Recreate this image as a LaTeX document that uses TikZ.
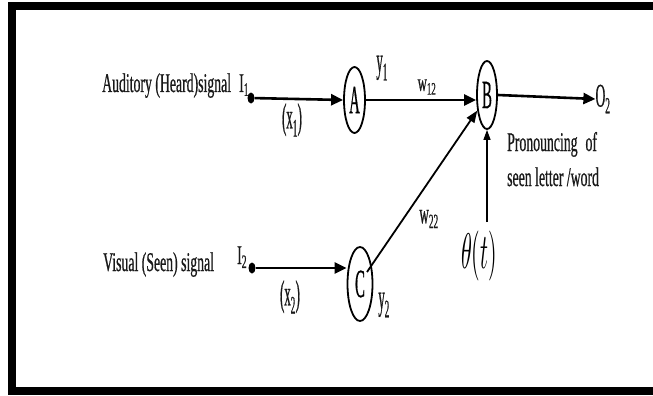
\documentclass[tikz,border=0pt]{standalone}
\usepackage{fontspec}
\setmainfont{Liberation Serif}[FakeStretch=0.51,FakeBold=0.6]
\usetikzlibrary{shapes.geometric,arrows.meta}
\newcommand\narrowtxt[2]{\scalebox{#1}[1]{#2}}
\begin{document}
\begin{tikzpicture}[x=1pt,y=-1pt,
  neuron/.style={draw,ellipse,line width=1.8pt,inner sep=0pt,font=\fontsize{40}{40}\selectfont},
  dotnode/.style={fill,ellipse,inner sep=0pt,minimum width=7pt,minimum height=11pt},
  lbl/.style={inner sep=0pt,text=black!90,font=\fontsize{27}{29}\selectfont},
  slbl/.style={inner sep=0pt,text=black!90,font=\fontsize{25}{27}\selectfont},
  blbl/.style={inner sep=0pt,text=black!90,font=\fontsize{36}{38}\selectfont},
  thick arrow/.style={line width=2.6pt,-{Triangle[length=12pt,width=11pt]}},
  mid arrow/.style={line width=1.8pt,-{Triangle[length=12pt,width=9pt]}},
  thin arrow/.style={line width=1.2pt,-{Triangle[length=10pt,width=7pt]}}]
\useasboundingbox (0,0) rectangle (653,396);
\clip (0,0) rectangle (653,396);
\fill[white] (0,0) rectangle (653,396);
\draw[line width=8pt] (12,6) rectangle (670,391);
% neurons
\node[neuron,minimum width=21pt,minimum height=66pt] (A) at (354.5,100) {\narrowtxt{0.72}{A}};
\node[neuron,minimum width=20pt,minimum height=68pt] (B) at (487,95) {\narrowtxt{0.72}{B}};
\node[neuron,minimum width=25pt,minimum height=74pt] (C) at (360,284) {\narrowtxt{0.72}{C}};
% input dots
\node[dotnode] (d1) at (251,98) {};
\node[dotnode] (d2) at (252,268) {};
% labels
\node[lbl,anchor=base west] (aud) at (102,92) {Auditory (Heard)signal};
\node[lbl,anchor=base west] (vis) at (103,271) {Visual (Seen) signal};
\node[lbl,anchor=base west] (I1) at (239,92) {I\textsubscript{1}};
\node[lbl,anchor=base west] (I2) at (237,264) {I\textsubscript{2}};
\node[blbl] (x1) at (292,120) {\narrowtxt{0.7}{(x\textsubscript{1})}};
\node[blbl] (x2) at (290,297) {\narrowtxt{0.7}{(x\textsubscript{2})}};
\node[blbl] (y1) at (382,68) {\narrowtxt{0.7}{y\textsubscript{1}}};
\node[blbl] (y2) at (384,305) {\narrowtxt{0.7}{y\textsubscript{2}}};
\node[slbl] (w12) at (427,87) {w\textsubscript{12}};
\node[slbl] (w22) at (429,219) {\narrowtxt{0.9}{\fontsize{29}{30}\selectfont w\textsubscript{22}}};
\node[lbl] (O2) at (603,99) {\narrowtxt{0.8}{\fontsize{33}{34}\selectfont O\textsubscript{2}}};
\node[lbl,anchor=base west] (pr1) at (507,151) {Pronouncing\, of};
\node[lbl,anchor=base west] (pr2) at (507,186) {seen letter /word};
\node[inner sep=0pt] (th) at (479,256) {\scalebox{2.2}[5.0]{$\theta(t)$}};
\coordinate (thtop) at (487,222);
\coordinate (cstart) at (367,272);
% connectors
\draw[thick arrow] (d1) -- (A.west);
\draw[thick arrow] (A.east) -- (B.west |- A.east);
\draw[thick arrow] (d2) -- (C.west |- d2);
\draw[thick arrow] (B.east) -- (O2.west);
\draw[mid arrow] (cstart) -- (B.238);
\draw[thin arrow] (thtop) -- (B.south);
\end{tikzpicture}
\end{document}
